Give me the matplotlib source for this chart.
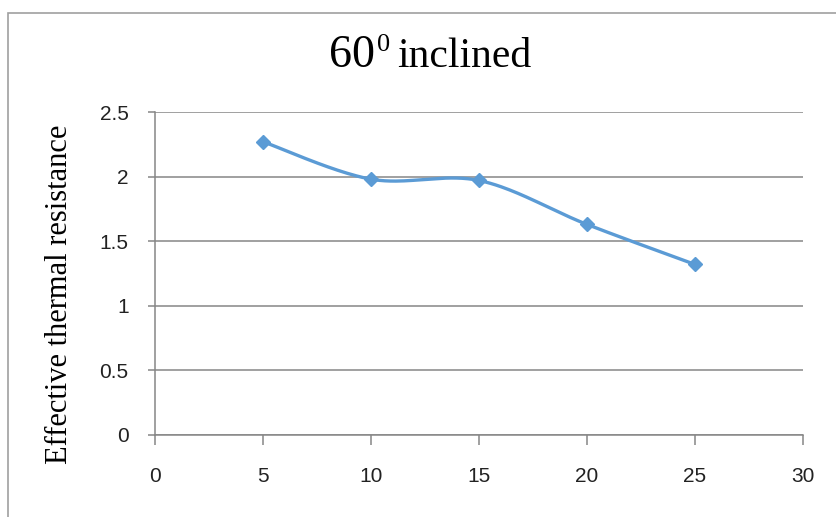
import numpy as np
import matplotlib.pyplot as plt
from matplotlib.patches import Rectangle

# Data
x_vals = [5, 10, 15, 20, 25]
y_vals = [2.27, 1.98, 1.97, 1.63, 1.32]
x_ticks = [0, 5, 10, 15, 20, 25, 30]
y_ticks = [0, 0.5, 1, 1.5, 2, 2.5]
y_tick_labels = ['0', '0.5', '1', '1.5', '2', '2.5']

line_color = '#5B9BD5'
grid_color = '#868686'


def smooth_curve(xs, ys, n=40):
    """Excel-like smoothed line: Catmull-Rom segments drawn as cubic Beziers."""
    pts = np.column_stack([xs, ys]).astype(float)
    pts_ext = np.vstack([pts[0], pts, pts[-1]])
    out = []
    t = np.linspace(0, 1, n)[:, None]
    for i in range(1, len(pts_ext) - 2):
        p0, p1, p2, p3 = pts_ext[i - 1], pts_ext[i], pts_ext[i + 1], pts_ext[i + 2]
        c1 = p1 + (p2 - p0) / 6
        c2 = p2 - (p3 - p1) / 6
        seg = ((1 - t) ** 3) * p1 + 3 * ((1 - t) ** 2) * t * c1 + 3 * (1 - t) * t ** 2 * c2 + t ** 3 * p2
        out.append(seg)
    out = np.vstack(out)
    return out[:, 0], out[:, 1]


fig = plt.figure(figsize=(8.36, 5.17), dpi=100)
ax = fig.add_axes([155 / 836, 1 - 435 / 517, (803 - 155) / 836, (435 - 112) / 517])

# outer chart border
fig.patches.append(Rectangle((8 / 836, -0.01), 1.0, 1 - 13 / 517 + 0.01, transform=fig.transFigure,
                             fill=False, edgecolor='#A0A0A0', linewidth=1.2))

sx, sy = smooth_curve(x_vals, y_vals)
ax.plot(sx, sy, color=line_color, linewidth=2.4, zorder=3, solid_capstyle='round')
ax.plot(x_vals, y_vals, linestyle='none', marker='D', markersize=7.5,
        color=line_color, zorder=4)

ax.set_xlim(0, 30)
ax.set_ylim(0, 2.5)
ax.set_xticks(x_ticks)
ax.set_yticks(y_ticks)
ax.set_yticklabels(y_tick_labels)
ax.yaxis.grid(True, color=grid_color, linewidth=1.1)
ax.set_axisbelow(True)

for side in ['top', 'right']:
    ax.spines[side].set_visible(False)
ax.spines['left'].set_color(grid_color)
ax.spines['bottom'].set_color(grid_color)
ax.spines['left'].set_linewidth(1.1)
ax.spines['bottom'].set_linewidth(1.1)

ax.tick_params(axis='both', direction='out', width=1.1, color=grid_color,
               labelsize=15, labelcolor='#222222')
ax.tick_params(axis='x', length=7, pad=16)
ax.tick_params(axis='y', length=5, pad=14)
for lbl in ax.get_xticklabels() + ax.get_yticklabels():
    lbl.set_family('Liberation Sans')

fig.text(60 / 836, 1 - 294 / 517, 'Effective thermal resistance', family='Liberation Serif',
         fontsize=22, rotation=90, ha='center', va='center')

# title "60⁰ inclined" with a small raised zero
fig.text(329 / 836, 1 - 67 / 517, '60', family='Liberation Serif', fontsize=33,
         ha='left', va='baseline')
fig.text(377 / 836, 1 - 51 / 517, '0', family='Liberation Serif', fontsize=19,
         ha='left', va='baseline')
fig.text(397 / 836, 1 - 67 / 517, 'inclined', family='Liberation Serif', fontsize=30,
         ha='left', va='baseline')

fig.savefig('out.png', dpi=100)
